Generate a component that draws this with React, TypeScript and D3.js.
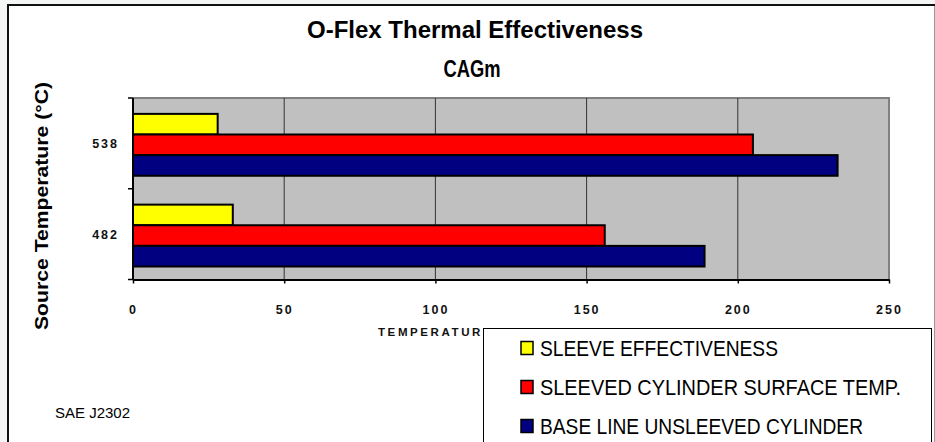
import React, { useEffect, useRef } from "react";
import * as d3 from "d3";

const categories = ["482", "538"];
const seriesNames = [
  "SLEEVE EFFECTIVENESS",
  "SLEEVED CYLINDER SURFACE TEMP.",
  "BASE LINE UNSLEEVED CYLINDER",
];
const sleeveEffectiveness = [33, 28];
const sleevedSurfaceTemp = [156, 205];
const baseLineUnsleeved = [189, 233];
const seriesValues = [sleeveEffectiveness, sleevedSurfaceTemp, baseLineUnsleeved];
const seriesColors = ["#FFFF00", "#FF0000", "#000080"];
const xTicks = [0, 50, 100, 150, 200, 250];

const W = 935;
const H = 442;
const font = "'Liberation Sans', Arial, sans-serif";

const App = () => {
  const ref = useRef<SVGSVGElement>(null);

  useEffect(() => {
    const svg = d3.select(ref.current);
    svg.selectAll("*").remove();

    // page + frame
    svg.append("rect").attr("width", W).attr("height", H).attr("fill", "#f4f6f6");
    svg.append("rect").attr("x", 8).attr("y", 5).attr("width", 926).attr("height", H).attr("fill", "#fff");
    svg.append("line").attr("x1", 7).attr("x2", W).attr("y1", 5).attr("y2", 5)
      .attr("stroke", "#111").attr("stroke-width", 2);
    svg.append("line").attr("x1", 8).attr("x2", 8).attr("y1", 4).attr("y2", H)
      .attr("stroke", "#111").attr("stroke-width", 2);
    svg.append("line").attr("x1", 934.5).attr("x2", 934.5).attr("y1", 6).attr("y2", H)
      .attr("stroke", "#999").attr("stroke-width", 1);

    const x = d3.scaleLinear().domain([0, 250]).range([133, 889]);
    const y = d3.scaleBand().domain(categories).range([279.5, 98]);
    const inner = d3.scaleBand().domain(seriesNames).range([0, y.bandwidth()])
      .paddingInner(0).paddingOuter(0.7).align(0.55);

    const [top, bottom] = [98, 279.5];

    // plot area
    svg.append("rect").attr("x", x(0)).attr("y", top)
      .attr("width", x(250) - x(0)).attr("height", bottom - top).attr("fill", "#C0C0C0");
    svg.append("path")
      .attr("d", `M${x(0)},${top}H${x(250)}V${bottom}`)
      .attr("fill", "none").attr("stroke", "#808080").attr("stroke-width", 2);

    svg.append("g").selectAll("line").data(xTicks.slice(1, -1)).join("line")
      .attr("x1", d => x(d)).attr("x2", d => x(d))
      .attr("y1", top).attr("y2", bottom)
      .attr("stroke", "#333").attr("stroke-width", 1);

    // bars
    seriesNames.forEach((name, si) => {
      svg.append("g").selectAll("rect").data(categories).join("rect")
        .attr("x", x(0))
        .attr("y", c => (y(c) as number) + (inner(name) as number))
        .attr("width", (c, i) => x(seriesValues[si][i]) - x(0))
        .attr("height", inner.bandwidth())
        .attr("fill", seriesColors[si])
        .attr("stroke", "#000").attr("stroke-width", 2);
    });

    // axes
    const xAxis = svg.append("g").attr("transform", `translate(0,${bottom})`)
      .call(d3.axisBottom(x).tickValues(xTicks).tickSize(4).tickSizeOuter(0).tickFormat(d3.format("d")));
    xAxis.select(".domain").attr("stroke", "#000").attr("stroke-width", 2);
    xAxis.selectAll(".tick line").attr("stroke", "#000").attr("stroke-width", 1.5);
    xAxis.selectAll(".tick text")
      .attr("y", 34).attr("dy", 0)
      .attr("font-family", font).attr("font-size", 12.5).attr("font-weight", "bold")
      .attr("letter-spacing", "2px").attr("fill", "#111");

    const yBounds = [top, top + y.bandwidth(), bottom];
    svg.append("line").attr("x1", x(0)).attr("x2", x(0)).attr("y1", top).attr("y2", bottom)
      .attr("stroke", "#000").attr("stroke-width", 2);
    svg.append("g").selectAll("line").data(yBounds).join("line")
      .attr("x1", x(0) - 5).attr("x2", x(0)).attr("y1", d => d).attr("y2", d => d)
      .attr("stroke", "#000").attr("stroke-width", 1.5);
    svg.append("g").selectAll("text").data(categories).join("text")
      .attr("x", 119)
      .attr("y", c => (y(c) as number) + y.bandwidth() / 2 + 4.5)
      .attr("text-anchor", "end")
      .attr("font-family", font).attr("font-size", 12.5).attr("font-weight", "bold")
      .attr("letter-spacing", "2px").attr("fill", "#111")
      .text(c => c);

    // titles
    svg.append("text").attr("x", 475).attr("y", 38).attr("text-anchor", "middle")
      .attr("font-family", font).attr("font-size", 24).attr("font-weight", "bold")
      .attr("textLength", 336).attr("lengthAdjust", "spacingAndGlyphs")
      .text("O-Flex Thermal Effectiveness");
    svg.append("text").attr("x", 472).attr("y", 77).attr("text-anchor", "middle")
      .attr("font-family", font).attr("font-size", 24).attr("font-weight", "bold")
      .attr("textLength", 57).attr("lengthAdjust", "spacingAndGlyphs")
      .text("CAGm");
    svg.append("text")
      .attr("transform", "translate(48,206) rotate(-90)")
      .attr("text-anchor", "middle")
      .attr("font-family", font).attr("font-size", 18).attr("font-weight", "bold")
      .attr("textLength", 248).attr("lengthAdjust", "spacingAndGlyphs")
      .text("Source Temperature (°C)");
    svg.append("text").attr("x", 378).attr("y", 336)
      .attr("font-family", font).attr("font-size", 11.5).attr("font-weight", "bold")
      .attr("letter-spacing", "2.6px").attr("fill", "#111")
      .text("TEMPERATURE (°C)");
    svg.append("text").attr("x", 55).attr("y", 418)
      .attr("font-family", font).attr("font-size", 15)
      .text("SAE J2302");

    // legend
    const legendLengths = [238, 361, 323];
    const lg = svg.append("g");
    lg.append("rect").attr("x", 483.5).attr("y", 328.5).attr("width", 448).attr("height", 200)
      .attr("fill", "#fff").attr("stroke", "#000").attr("stroke-width", 1);
    seriesNames.forEach((name, i) => {
      const cy = 348 + i * 39;
      lg.append("rect").attr("x", 521).attr("y", cy - 6.5).attr("width", 12).attr("height", 13)
        .attr("fill", seriesColors[i]).attr("stroke", "#000").attr("stroke-width", 1.5);
      lg.append("text").attr("x", 540).attr("y", cy + 8)
        .attr("font-family", font).attr("font-size", 22.5)
        .attr("textLength", legendLengths[i]).attr("lengthAdjust", "spacingAndGlyphs")
        .text(name);
    });
  }, []);

  return (
    <svg
      ref={ref}
      width={W}
      height={H}
      style={{ position: "absolute", left: 0, top: 0, display: "block" }}
    />
  );
};

export default App;
